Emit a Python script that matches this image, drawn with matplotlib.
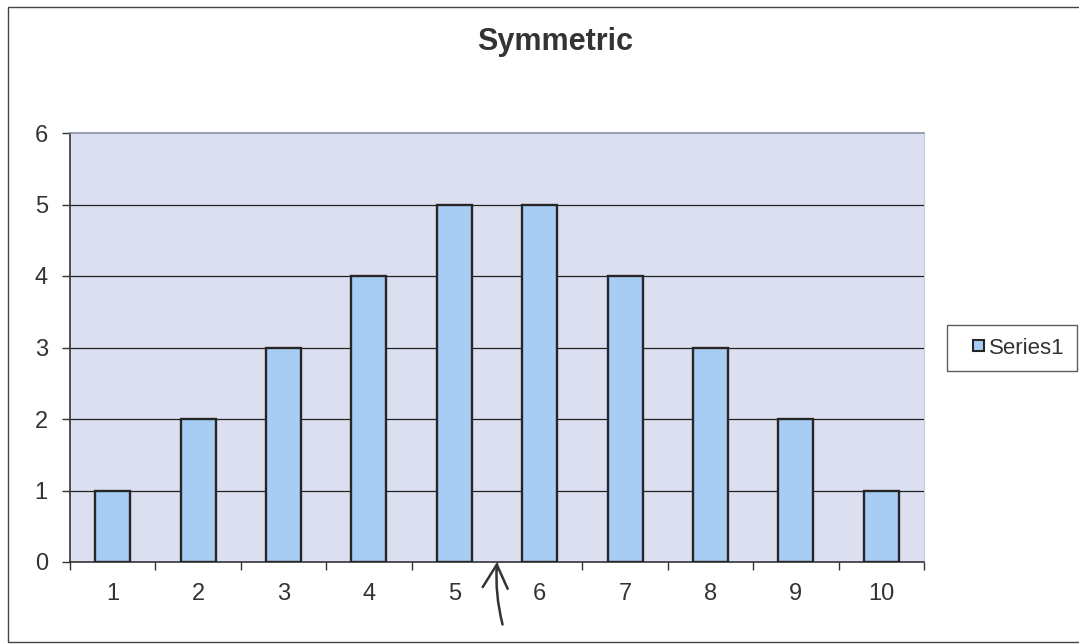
import matplotlib
matplotlib.use("Agg")
import matplotlib.pyplot as plt
from matplotlib.patches import Rectangle
from matplotlib.ticker import FixedLocator
from matplotlib.legend_handler import HandlerPatch

categories = ["1", "2", "3", "4", "5", "6", "7", "8", "9", "10"]
values = [1, 2, 3, 4, 5, 5, 4, 3, 2, 1]
series_name = "Series1"
title = "Symmetric"
y_ticks = [0, 1, 2, 3, 4, 5, 6]

plt.rcParams['font.family'] = ['Liberation Sans', 'DejaVu Sans']
text_col = "#333333"

W, H = 1079, 644
fig = plt.figure(figsize=(W / 100, H / 100), dpi=100)
fig.patch.set_facecolor("white")

# outer chart border
fig.patches.append(Rectangle((8 / W, 2 / H), 1.2, 635 / H, transform=fig.transFigure,
                             fill=False, edgecolor="#444444", linewidth=1.0, zorder=0))

ax = fig.add_axes([70 / W, 1 - 562 / H, (924 - 70) / W, (562 - 133) / H])
ax.set_facecolor("#dcdff0")

x = list(range(1, len(categories) + 1))
bars = ax.bar(x, values, width=0.41, color="#a8cdf5", edgecolor="#262626", linewidth=1.7,
              zorder=3, label=series_name)

ax.set_xlim(0.5, len(categories) + 0.5)
ax.set_ylim(0, 6)
ax.set_yticks(y_ticks)
ax.set_yticklabels([str(v) for v in y_ticks])
ax.set_xticks(x)
ax.set_xticklabels(categories)
ax.xaxis.set_minor_locator(FixedLocator([i + 0.5 for i in range(0, len(categories) + 1)]))

ax.tick_params(axis="x", which="major", length=0, pad=15, labelsize=17, labelcolor=text_col)
ax.tick_params(axis="x", which="minor", length=6, width=1, color="#333333", direction="out")
ax.tick_params(axis="y", which="major", length=6, width=1, color="#333333", direction="out",
               pad=10, labelsize=17, labelcolor=text_col)

for yv in y_ticks[1:-1]:
    ax.axhline(yv, color="#222222", linewidth=0.9, zorder=1)

ax.spines["left"].set_color("#333333")
ax.spines["bottom"].set_color("#333333")
ax.spines["left"].set_linewidth(1.2)
ax.spines["bottom"].set_linewidth(1.2)
ax.spines["top"].set_color("#8a8fa8")
ax.spines["right"].set_color("#c8c8e0")
ax.spines["top"].set_linewidth(1.2)
ax.spines["right"].set_linewidth(0.8)

fig.text(555 / W, 1 - 42 / H, title, ha="center", va="center",
         fontsize=22, fontweight="bold", color=text_col)


def square_patch(legend, orig_handle, xdescent, ydescent, width, height, fontsize):
    s = height * 0.72
    return Rectangle((-xdescent + width - s, -ydescent + (height - s) / 2), s, s)


leg = fig.legend(handles=[bars.patches[0]], labels=[series_name],
                 loc="center left", bbox_to_anchor=(947 / W, 1 - 348 / H), borderaxespad=0,
                 fontsize=16, frameon=True, fancybox=False, handlelength=1.12,
                 handleheight=0.7, handletextpad=0.22, borderpad=0.55, labelcolor=text_col,
                 handler_map={Rectangle: HandlerPatch(patch_func=square_patch)})
leg.get_frame().set_edgecolor("#333333")
leg.get_frame().set_linewidth(1.0)
for p in leg.get_patches():
    p.set_linewidth(1.5)

# hand-drawn arrow annotation
ax.annotate("", xy=(5.5, 0), xycoords="data", xytext=(4, -45), textcoords="offset points",
            arrowprops=dict(arrowstyle="->,head_length=1.4,head_width=0.75", color="#333333",
                            linewidth=1.8, mutation_scale=12,
                            connectionstyle="arc3,rad=-0.08", shrinkA=0, shrinkB=0),
            annotation_clip=False)

fig.savefig("out.png", dpi=100, facecolor="white")
